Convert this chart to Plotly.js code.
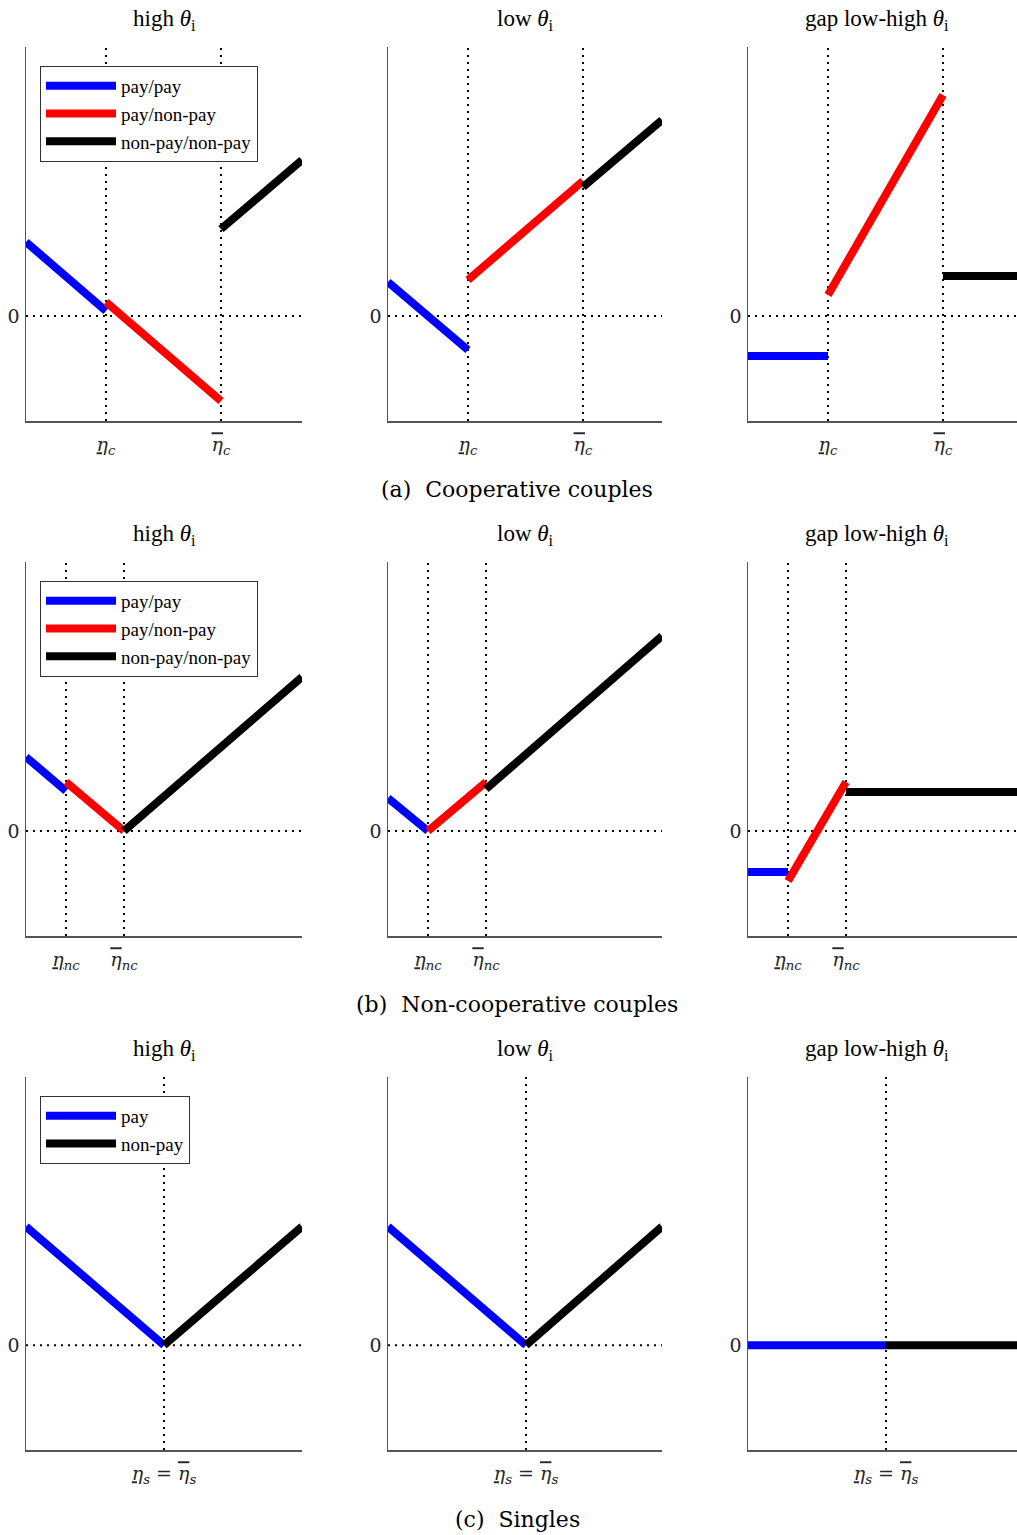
<!DOCTYPE html>
<html>
<head>
<meta charset="utf-8">
<script src="https://cdn.plot.ly/plotly-3.0.1.min.js"></script>
<style>
  html, body { margin: 0; padding: 0; background: #fff; overflow: hidden; }
  #myPlot { width: 1024px; height: 1535px; }
</style>
</head>
<body>
<div id="myPlot"></div>
<script>
    // datos (unidades arbitrarias, 0 = linea punteada)
    var panelTitles = ["high <i>θ</i><sub>i</sub>", "low <i>θ</i><sub>i</sub>", "gap low-high <i>θ</i><sub>i</sub>"];
    var captions = ["(a)  Cooperative couples", "(b)  Non-cooperative couples", "(c)  Singles"];

    // umbrales de eta por fila
    var etaCoop = [0.80, 1.95];
    var etaNonCoop = [0.40, 0.98];
    var etaSingles = [1.38];

    var bajo = "<span style='text-decoration:underline'><i>η</i></span>";
    var alto = "<span style='text-decoration:overline'><i>η</i></span>";
    var etaCoopLabels = [bajo + "<sub><i>c</i></sub>", alto + "<sub><i>c</i></sub>"];
    var etaNonCoopLabels = [bajo + "<sub><i>nc</i></sub>", alto + "<sub><i>nc</i></sub>"];
    var etaSinglesLabels = [bajo + "<sub><i>s</i></sub> = " + alto + "<sub><i>s</i></sub>"];

    var coupleNames = ["pay/pay", "pay/non-pay", "non-pay/non-pay"];
    var singleNames = ["pay", "non-pay"];

    // (a) parejas cooperativas: [inicio, fin] de cada tramo
    var coopHigh = [[0.74, 0.05], [0.14, -0.85], [0.87, 1.56]];
    var coopLow = [[0.34, -0.34], [0.36, 1.35], [1.29, 1.96]];
    var coopGap = [[-0.40, -0.40], [0.21, 2.21], [0.40, 0.40]];

    // (b) parejas no cooperativas
    var nonCoopHigh = [[0.74, 0.40], [0.49, 0.00], [0.00, 1.54]];
    var nonCoopLow = [[0.33, 0.00], [0.00, 0.49], [0.42, 1.95]];
    var nonCoopGap = [[-0.41, -0.41], [-0.50, 0.49], [0.39, 0.39]];

    // (c) solteros
    var singlesHigh = [[1.19, 0.00], [0.00, 1.19]];
    var singlesLow = [[1.19, 0.00], [0.00, 1.19]];
    var singlesGap = [[0.00, 0.00], [0.00, 0.00]];

    // estilos
    var coupleColors = ["#0000ff", "#ff0000", "#000000"];
    var singleColors = ["#0000ff", "#000000"];
    var W = 1024, H = 1535;
    var colLeft = [26, 388, 748], colRight = [302, 662, 1024];
    var rowTop = [47, 562, 1077], rowBottom = [421, 936, 1450];
    var xMax = [2.76, 2.74, 2.76];
    var yRange = [-1.05, 2.69];
    var fuente = "Liberation Serif, Times New Roman, serif";
    var fuenteCM = "DejaVu Serif, serif";

    var filas = [
        { paneles: [coopHigh, coopLow, coopGap], eta: etaCoop, labels: etaCoopLabels, names: coupleNames, colors: coupleColors, legend: "legend" },
        { paneles: [nonCoopHigh, nonCoopLow, nonCoopGap], eta: etaNonCoop, labels: etaNonCoopLabels, names: coupleNames, colors: coupleColors, legend: "legend2" },
        { paneles: [singlesHigh, singlesLow, singlesGap], eta: etaSingles, labels: etaSinglesLabels, names: singleNames, colors: singleColors, legend: "legend3" }
    ];

    var data = [];
    var shapes = [];
    var annotations = [];
    var layout = {
        width: W, height: H,
        margin: { l: 0, r: 0, t: 0, b: 0 },
        paper_bgcolor: "#fff", plot_bgcolor: "#fff",
        font: { family: fuente, size: 18, color: "#262626" },
        showlegend: true
    };

    for (var r = 0; r < 3; r++) {
        var fila = filas[r];
        for (var c = 0; c < 3; c++) {
            var k = r * 3 + c + 1;
            var xa = "x" + (k == 1 ? "" : k), ya = "y" + (k == 1 ? "" : k);
            var xName = "xaxis" + (k == 1 ? "" : k), yName = "yaxis" + (k == 1 ? "" : k);

            // limites de cada tramo: 0, umbrales, fin del eje
            var bordes = [0].concat(fila.eta).concat([xMax[c]]);
            var tramos = fila.paneles[c];
            for (var s = 0; s < tramos.length; s++) {
                data.push({
                    x: [bordes[s], bordes[s + 1]],
                    y: tramos[s],
                    xaxis: xa, yaxis: ya,
                    type: "scatter", mode: "lines",
                    line: { color: fila.colors[s], width: 8 },
                    name: fila.names[s],
                    legend: fila.legend,
                    showlegend: c == 0,
                    hoverinfo: "skip"
                });
            }

            layout[xName] = {
                domain: [colLeft[c] / W, colRight[c] / W],
                range: [0, xMax[c]],
                anchor: ya,
                showline: true, linecolor: "#555", linewidth: 1.5,
                showgrid: false, zeroline: false,
                ticks: "", tickvals: fila.eta, ticktext: fila.labels,
                ticklabelstandoff: 6,
                tickfont: { size: 19, color: "#262626", family: fuenteCM }
            };
            layout[yName] = {
                domain: [1 - rowBottom[r] / H, 1 - rowTop[r] / H],
                range: yRange,
                anchor: xa,
                showline: true, linecolor: "#555", linewidth: 1.5,
                showgrid: false, zeroline: false,
                ticks: "", tickvals: [0], ticktext: ["0"],
                ticklabelstandoff: 1,
                tickfont: { size: 19, color: "#262626", family: fuenteCM }
            };

            // lineas punteadas
            var punteado = { color: "#000", width: 2, dash: "2px,5px" };
            shapes.push({ type: "line", layer: "below", xref: xa + " domain", yref: ya, x0: 0, x1: 1, y0: 0, y1: 0, line: punteado });
            for (var e = 0; e < fila.eta.length; e++) {
                shapes.push({ type: "line", layer: "below", xref: xa, yref: ya + " domain", x0: fila.eta[e], x1: fila.eta[e], y0: 0, y1: 1, line: punteado });
            }

            // titulo de cada panel
            annotations.push({
                text: panelTitles[c], showarrow: false,
                xref: "paper", yref: "paper",
                x: (colLeft[c] + (c == 2 ? 1017 : colRight[c])) / 2 / W + (c == 2 ? -0.005 : 0),
                y: 1 - (rowTop[r] - 27) / H,
                xanchor: "center", yanchor: "middle",
                font: { size: 23, color: "#000", family: fuente }
            });
        }

        // subtitulo de la fila
        annotations.push({
            text: captions[r], showarrow: false,
            xref: "paper", yref: "paper",
            x: 517 / W, y: 1 - (rowBottom[r] + 69) / H,
            xanchor: "center", yanchor: "middle",
            font: { size: 22, color: "#000", family: fuenteCM }
        });

        layout[fila.legend] = {
            x: 40 / W, y: 1 - (rowTop[r] + 19) / H,
            xanchor: "left", yanchor: "top",
            bgcolor: "#fff", bordercolor: "#333", borderwidth: 1,
            font: { size: 19, color: "#000", family: fuente },
            tracegroupgap: 0, itemwidth: 70
        };
    }

    layout.shapes = shapes;
    layout.annotations = annotations;

    Plotly.newPlot("myPlot", data, layout, { staticPlot: true });
</script>
</body>
</html>
